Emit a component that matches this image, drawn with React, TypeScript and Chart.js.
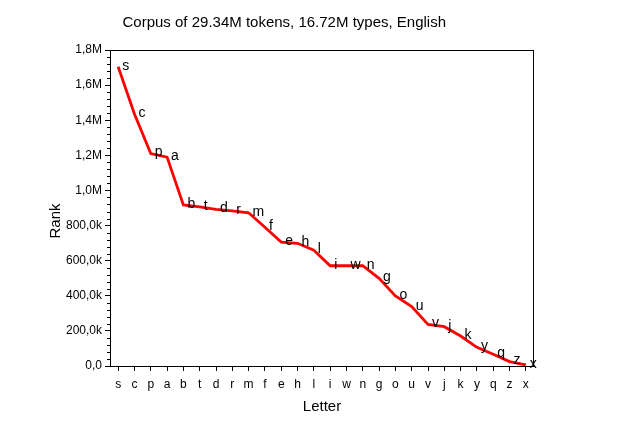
import React, { useEffect, useRef } from "react";
import { Chart, registerables } from "chart.js";

Chart.register(...registerables);

const letters = ["s","c","p","a","b","t","d","r","m","f","e","h","l","i","w","n","g","o","u","v","j","k","y","q","z","x"];
const rankValues = [1705000,1435000,1210000,1190000,918000,907000,892000,884000,873000,790000,706000,699000,660000,571000,571000,571000,499000,399000,338000,237000,224000,171000,106000,67000,25000,6000];
const yMin = 0;
const yMax = 1800000;
const yMajorStep = 200000;
const yMinorStep = 40000;
const titleText = "Corpus of 29.34M tokens, 16.72M types, English";
const xTitle = "Letter";
const yTitle = "Rank";

const FONT = "'Liberation Sans', Arial, sans-serif";

function fmtY(v: number): string {
  if (v === 0) return "0,0";
  if (v >= 1000000) return (v / 1000000).toFixed(1).replace(".", ",") + "M";
  return (v / 1000).toFixed(1).replace(".", ",") + "k";
}

const decorPlugin = {
  id: "decor",
  afterDatasetsDraw(chart: any) {
    const ctx = chart.ctx;
    const area = chart.chartArea;
    const xs = chart.scales.x;
    const ys = chart.scales.y;
    ctx.save();
    // frame
    ctx.strokeStyle = "#000";
    ctx.lineWidth = 1;
    ctx.strokeRect(area.left + 0.5, area.top + 0.5, area.right - area.left - 1, area.bottom - area.top);
    // minor y ticks
    for (let v = yMin; v <= yMax; v += yMinorStep) {
      if (v % yMajorStep === 0) continue;
      const py = Math.round(ys.getPixelForValue(v)) + 0.5;
      ctx.beginPath();
      ctx.moveTo(area.left - 3, py);
      ctx.lineTo(area.left, py);
      ctx.stroke();
    }
    // data labels
    ctx.fillStyle = "#000";
    ctx.font = `14px ${FONT}`;
    ctx.textAlign = "left";
    ctx.textBaseline = "middle";
    letters.forEach((l, i) => {
      const px = xs.getPixelForValue(i);
      const py = ys.getPixelForValue(rankValues[i]);
      ctx.fillText(l, px + 4, py - 1);
    });
    // title
    ctx.font = `15px ${FONT}`;
    ctx.textBaseline = "alphabetic";
    ctx.textAlign = "left";
    ctx.fillText(titleText, 122.5, 26.5);
    // x title
    ctx.textAlign = "center";
    ctx.fillText(xTitle, (area.left + area.right) / 2, 410.5);
    // y title
    ctx.translate(60, 221);
    ctx.rotate(-Math.PI / 2);
    ctx.fillText(yTitle, 0, 0);
    ctx.restore();
  },
};

export default function App() {
  const canvasRef = useRef<HTMLCanvasElement | null>(null);
  useEffect(() => {
    if (!canvasRef.current) return;
    const chart = new Chart(canvasRef.current, {
      type: "line",
      data: {
        labels: letters,
        datasets: [
          {
            data: rankValues,
            borderColor: "#ff0000",
            borderWidth: 2.8,
            pointRadius: 0,
            tension: 0,
            fill: false,
          },
        ],
      },
      options: {
        animation: false,
        responsive: true,
        maintainAspectRatio: false,
        layout: { padding: { top: 50, right: 89, left: 0, bottom: 0 } },
        plugins: { legend: { display: false }, title: { display: false }, tooltip: { enabled: false } },
        scales: {
          x: {
            type: "category",
            offset: true,
            afterFit: (s: any) => { s.height = 74; },
            grid: { display: true, drawOnChartArea: false, tickLength: 5, color: "#000", offset: false },
            border: { display: true, color: "#000", width: 1 },
            ticks: { color: "#000", font: { size: 12, family: FONT }, padding: 6, autoSkip: false, maxRotation: 0 },
          },
          y: {
            min: yMin,
            max: yMax,
            afterFit: (s: any) => { s.width = 110; },
            grid: { display: true, drawOnChartArea: false, tickLength: 5, color: "#000" },
            border: { display: true, color: "#000", width: 1 },
            ticks: {
              stepSize: yMajorStep,
              color: "#000",
              font: { size: 12, family: FONT },
              padding: 3,
              callback: (v: any) => fmtY(Number(v)),
            },
          },
        },
      },
      plugins: [decorPlugin],
    });
    return () => chart.destroy();
  }, []);
  return (
    <div style={{ position: "fixed", left: 0, top: 0, width: 623, height: 440, background: "#fff" }}>
      <canvas ref={canvasRef} />
    </div>
  );
}
